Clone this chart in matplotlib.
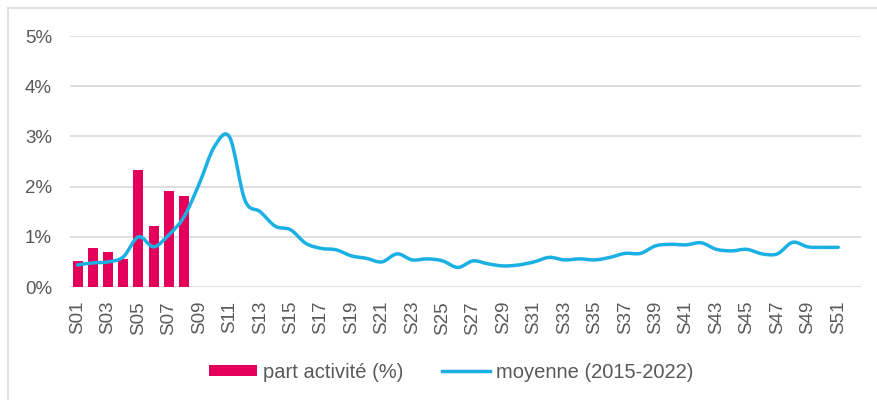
import numpy as np
import matplotlib
matplotlib.use("Agg")
import matplotlib.pyplot as plt
from matplotlib.path import Path
from matplotlib.patches import PathPatch, Patch
from matplotlib.lines import Line2D

plt.rcParams['font.family'] = ['Liberation Sans', 'DejaVu Sans']

# semaines S01..S52
weeks = [f"S{i:02d}" for i in range(1, 53)]

# part activité (%) - only the first weeks are known
part_activite = [0.52, 0.77, 0.69, 0.55, 2.33, 1.21, 1.91, 1.81]

# moyenne (2015-2022), S01..S51
moyenne = [0.44, 0.48, 0.50, 0.60, 1.00, 0.80, 1.04, 1.40, 2.06, 2.80,
           2.98, 1.73, 1.50, 1.21, 1.14, 0.87, 0.77, 0.74, 0.62, 0.57,
           0.50, 0.66, 0.54, 0.56, 0.52, 0.39, 0.52, 0.46, 0.42, 0.44,
           0.50, 0.59, 0.54, 0.56, 0.54, 0.59, 0.67, 0.67, 0.82, 0.85,
           0.84, 0.88, 0.75, 0.72, 0.75, 0.66, 0.66, 0.89, 0.80, 0.79, 0.79]

yticks = [0, 1, 2, 3, 4, 5]

BAR_COLOR = '#E4005A'
LINE_COLOR = '#1AB0E3'
GRID_COLOR = '#D9D9D9'
TEXT_COLOR = '#595959'


def smooth_path(xs, ys):
    # Excel style smoothed line: Catmull-Rom segments as cubic Bezier curves
    pts = np.column_stack([xs, ys])
    n = len(pts)
    verts = [pts[0]]
    codes = [Path.MOVETO]
    for i in range(n - 1):
        p0 = pts[i - 1] if i > 0 else pts[i]
        p1 = pts[i]
        p2 = pts[i + 1]
        p3 = pts[i + 2] if i + 2 < n else pts[i + 1]
        c1 = p1 + (p2 - p0) / 6.0
        c2 = p2 - (p3 - p1) / 6.0
        verts += [c1, c2, p2]
        codes += [Path.CURVE4] * 3
    return Path(verts, codes)


fig = plt.figure(figsize=(8.78, 4.0), dpi=100)
ax = fig.add_axes([70 / 878, 1 - 287 / 400, 791 / 878, 251 / 400])

x_all = np.arange(len(weeks))
ax.bar(x_all[:len(part_activite)], part_activite, width=0.66,
       color=BAR_COLOR, zorder=2)

path = smooth_path(x_all[:len(moyenne)], moyenne)
ax.add_patch(PathPatch(path, fill=False, edgecolor=LINE_COLOR, lw=2.5,
                       capstyle='round', joinstyle='round', zorder=3))

ax.set_xlim(-0.5, len(weeks) - 0.5)
ax.set_ylim(0, 5)
ax.set_yticks(yticks)
ax.set_yticklabels([f"{v}%" for v in yticks])
ax.yaxis.grid(True, color=GRID_COLOR, lw=1.2, zorder=0)
ax.set_axisbelow(True)

ax.set_xticks(x_all[::2])
ax.set_xticklabels(weeks[::2], rotation=90)

for s in ax.spines.values():
    s.set_visible(False)
ax.tick_params(axis='both', length=0, labelsize=13.5, labelcolor=TEXT_COLOR)
ax.tick_params(axis='y', pad=13)
ax.tick_params(axis='x', pad=10)

handles = [Patch(facecolor=BAR_COLOR, edgecolor='none'),
           Line2D([], [], color=LINE_COLOR, lw=2.5)]
fig.legend(handles, ['part activité (%)', 'moyenne (2015-2022)'],
           loc='center', bbox_to_anchor=(451 / 878, 1 - 372 / 400),
           ncol=2, frameon=False, fontsize=14.5, labelcolor=TEXT_COLOR,
           handlelength=2.4, handleheight=0.45, handletextpad=0.3,
           columnspacing=1.9)

# outer chart border (only left and top visible in the crop)
fig.add_artist(Line2D([8 / 878, 8 / 878], [0, 1 - 7.5 / 400],
                      color=GRID_COLOR, lw=1.2))
fig.add_artist(Line2D([8 / 878, 1], [1 - 7.5 / 400, 1 - 7.5 / 400],
                      color=GRID_COLOR, lw=1.2))

fig.savefig("out.png", dpi=100)
